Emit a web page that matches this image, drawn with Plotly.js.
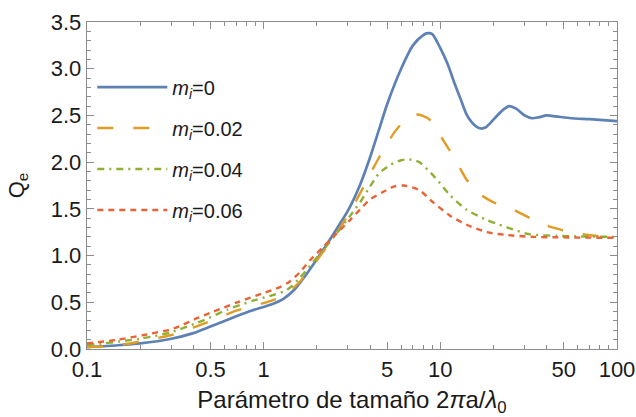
<!DOCTYPE html>
<html><head><meta charset="utf-8">
<script src="https://cdn.plot.ly/plotly-3.0.1.min.js"></script>
<style>html,body{margin:0;padding:0;background:#fff}#c{width:636px;height:417px}</style>
</head><body><div id="c"></div>
<script>
const x0 = [0.1,0.15,0.2,0.3,0.4,0.5,0.7,0.85,1.0,1.15,1.3,1.5,1.7,2.0,2.5,3.0,3.5,4.0,4.5,5.0,6.0,7.0,8.0,8.5,9.0,10,11,12,13,14,15,16,17,18,19,21,23,24.5,27,30,33,36,40,45,55,70,100];
const y0 = [0.02,0.04,0.06,0.11,0.17,0.24,0.35,0.41,0.45,0.49,0.54,0.64,0.77,0.96,1.24,1.48,1.75,2.05,2.35,2.62,3.00,3.25,3.36,3.38,3.37,3.22,3.05,2.85,2.68,2.52,2.43,2.38,2.36,2.37,2.41,2.50,2.57,2.60,2.57,2.50,2.47,2.48,2.50,2.49,2.47,2.46,2.44];
const x1 = [0.1,0.15,0.2,0.3,0.4,0.5,0.7,0.85,1.0,1.3,1.6,2.0,2.5,3.0,3.5,4.0,4.5,5.0,5.6,6.4,7.4,8.5,9.2,10.5,12.2,14,16.1,20,26,33,41.7,55,69,100];
const y1 = [0.02,0.04,0.08,0.15,0.23,0.30,0.41,0.46,0.49,0.57,0.72,0.95,1.20,1.43,1.66,1.87,2.05,2.20,2.34,2.46,2.51,2.47,2.40,2.22,2.02,1.82,1.68,1.57,1.49,1.39,1.31,1.25,1.22,1.19];
const x2 = [0.1,0.2,0.3,0.46,0.62,0.88,1.14,1.35,1.6,2.0,2.5,3.1,3.6,4.0,4.5,5.2,6.0,6.6,7.6,9.3,11.3,14.1,18.4,24,31.7,47,100];
const y2 = [0.04,0.11,0.18,0.31,0.42,0.52,0.58,0.63,0.76,0.98,1.20,1.43,1.60,1.74,1.88,1.97,2.02,2.03,2.00,1.84,1.65,1.49,1.38,1.30,1.23,1.21,1.20];
const x3 = [0.1,0.15,0.21,0.31,0.42,0.52,0.71,1.0,1.23,1.4,1.6,1.83,2.17,2.6,3.08,3.5,4.0,4.73,5.5,6.2,7.6,9.1,11.3,14.1,18.4,23.8,34,100];
const y3 = [0.06,0.10,0.15,0.22,0.33,0.40,0.50,0.60,0.66,0.72,0.82,0.95,1.09,1.24,1.38,1.49,1.60,1.68,1.74,1.75,1.70,1.57,1.43,1.33,1.25,1.22,1.20,1.19];
const names = ['<i>m</i><sub><i>i</i></sub>=0','<i>m</i><sub><i>i</i></sub>=0.02','<i>m</i><sub><i>i</i></sub>=0.04','<i>m</i><sub><i>i</i></sub>=0.06'];
const colors = ['#5E81B5','#E19C24','#8FB032','#EB6235'];
const dashes = ['solid','16px,20px','7px,5px,2px,5px','6px,5px'];
const xs=[x0,x1,x2,x3], ys=[y0,y1,y2,y3];
const xTickVals=[0.1,0.5,1,5,10,50,100];
const xTickText=['0.1','0.5','1','5','10','50','100'];
const xMinor=[0.2,0.3,0.4,0.6,0.7,0.8,0.9,2,3,4,6,7,8,9,20,30,40,60,70,80,90];
const yTickVals=[0,0.5,1,1.5,2,2.5,3,3.5];
const yTickText=['0.0','0.5','1.0','1.5','2.0','2.5','3.0','3.5'];
const traces = xs.map((x,i)=>({x:x,y:ys[i],type:'scatter',mode:'lines',name:names[i],
  line:{color:colors[i],width:i===0?2.7:2.4,dash:dashes[i],shape:'spline',smoothing:0.7},legendgroup:'g'+i}));
const font='"Liberation Sans", Arial, sans-serif';
const layout={width:636,height:417,margin:{l:87,r:19,t:22,b:68},
  paper_bgcolor:'#fff',plot_bgcolor:'#fff',showlegend:true,
  font:{family:font,size:22,color:'#1a1a1a'},
  legend:{x:0.01,y:0.613,xanchor:'left',yanchor:'middle',bgcolor:'rgba(0,0,0,0)',font:{size:20,color:'#1a1a1a'},
    tracegroupgap:12,traceorder:'grouped',itemwidth:70},
  xaxis:{type:'log',range:[-1,2],tickvals:xTickVals,ticktext:xTickText,ticks:'inside',ticklen:7,tickcolor:'#8c8c8c',
    showline:true,linecolor:'#8c8c8c',linewidth:1.3,mirror:'allticks',showgrid:false,zeroline:false,
    minor:{tickvals:xMinor,ticks:'inside',ticklen:4,tickcolor:'#8c8c8c'},
    tickfont:{size:22,color:'#1a1a1a'},
    title:{text:'Parámetro de tamaño 2<i>π</i>a/<i>λ</i><sub>0</sub>',font:{size:24,color:'#1a1a1a'},standoff:15}},
  yaxis:{range:[0,3.5],tickvals:yTickVals,ticktext:yTickText,
    ticks:'inside',ticklen:7,tickcolor:'#8c8c8c',showline:true,linecolor:'#8c8c8c',linewidth:1.3,mirror:'allticks',
    showgrid:false,zeroline:false,minor:{dtick:0.1,ticks:'inside',ticklen:4,tickcolor:'#8c8c8c'},
    tickfont:{size:22,color:'#1a1a1a'},
    title:{text:'Q<sub>e</sub>',font:{size:22,color:'#1a1a1a'},standoff:20}}
};
Plotly.newPlot('c',traces,layout,{staticPlot:true,displayModeBar:false});
</script></body></html>
